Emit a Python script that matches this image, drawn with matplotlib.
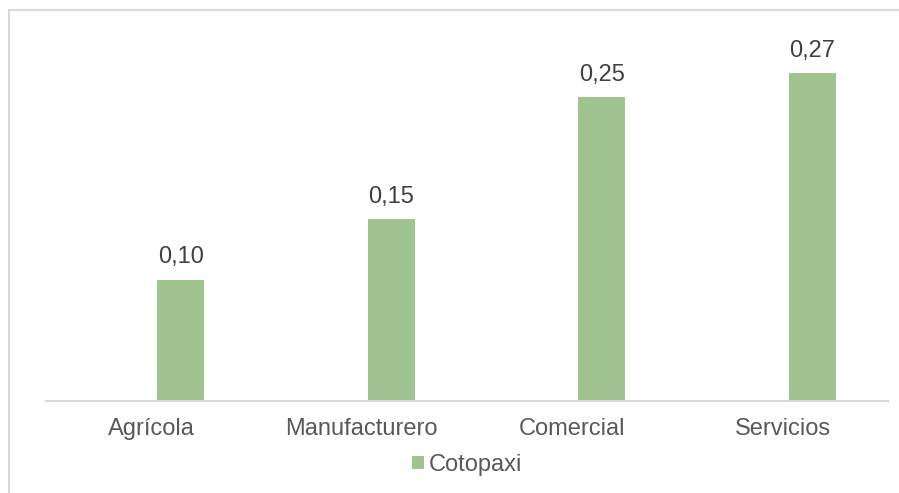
import matplotlib.pyplot as plt
from matplotlib.patches import Rectangle

plt.rcParams['font.family'] = ['Liberation Sans', 'DejaVu Sans']

# Datos por sector
sectores = ["Agrícola", "Manufacturero", "Comercial", "Servicios"]
valores = [0.10, 0.15, 0.25, 0.27]
serie = "Cotopaxi"

verde = "#A0C48F"
gris_eje = "#D9D9D9"

fig = plt.figure(figsize=(8.99, 4.93), dpi=100)
ax = fig.add_axes([46 / 899, 92 / 493, 842 / 899, 364.5 / 493])

x = list(range(len(sectores)))
desplazamiento = 0.14  # la barra ocupa la mitad derecha de cada categoria
barras = ax.bar([i + desplazamiento for i in x], valores, width=0.223,
                color=verde, label=serie, zorder=2)

for b, v in zip(barras, valores):
    ax.annotate(f"{v:.2f}".replace(".", ","),
                xy=(b.get_x() + b.get_width() / 2, b.get_height()),
                xytext=(0, 8), textcoords="offset points",
                ha="center", va="bottom", fontsize=17, color="#404040")

ax.set_xlim(-0.5, len(sectores) - 0.5)
ax.set_ylim(0, 0.30)
ax.set_xticks(x)
ax.set_xticklabels(sectores, fontsize=17, color="#595959")
ax.tick_params(axis="x", length=0, pad=12)
ax.set_yticks([])
for lado in ["top", "right", "left"]:
    ax.spines[lado].set_visible(False)
ax.spines["bottom"].set_color(gris_eje)
ax.spines["bottom"].set_linewidth(1.5)

leg = fig.legend(loc="center", bbox_to_anchor=(467 / 899, 1 - 465 / 493),
                 frameon=False, fontsize=17, handlelength=0.5, handleheight=0.5,
                 handletextpad=0.2, borderpad=0)
for t in leg.get_texts():
    t.set_color("#595959")

# marco del area del grafico
fig.patches.append(Rectangle((8.5 / 899, -0.2), 1.2, 1.2 - 9.5 / 493,
                             transform=fig.transFigure, fill=False,
                             edgecolor=gris_eje, linewidth=1.5))

fig.savefig("out.png", dpi=100)
